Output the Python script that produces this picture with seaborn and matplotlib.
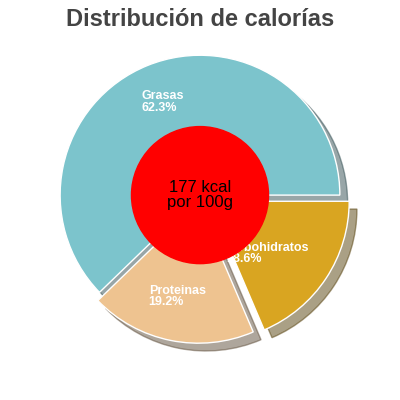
import matplotlib
matplotlib.use('Agg')
import matplotlib.pyplot as plt
import seaborn as sns
import numpy as np

sns.set_theme(style='white')
plt.rcParams['font.family'] = ['Liberation Sans', 'DejaVu Sans']

nutrientes = ['Grasas', 'Proteinas', 'carbohidratos']
porcentajes = [62.3, 19.2, 18.6]
colores = ['#7cc4cc', '#eec390', '#d9a521']
separacion = [0.0, 0.06, 0.08]

fig = plt.figure(figsize=(4, 4), dpi=100)
ax = fig.add_axes([0, 0, 1, 1])

wedges, texts = ax.pie(porcentajes, colors=colores, explode=separacion,
                       startangle=0, counterclock=True,
                       shadow={'ox': 0.04, 'oy': -0.04, 'shade': 0.6},
                       labels=None, radius=1.0)
# etiquetas alineadas a la izquierda, como en el original
desplaz = {'Grasas': -0.15, 'Proteinas': -0.22, 'carbohidratos': -0.45}
for w, n, p in zip(wedges, nutrientes, porcentajes):
    ang = np.deg2rad((w.theta1 + w.theta2) / 2)
    r = 0.72 if n == 'Grasas' else 0.68
    cx, cy = w.center
    ax.text(cx + r * np.cos(ang) + desplaz[n], cy + r * np.sin(ang), f'{n}\n{p}%',
            color='white', fontsize=9, fontweight='bold', ha='left', va='center',
            linespacing=0.95)

ax.add_patch(plt.Circle((0, 0), 0.49, color='red', zorder=5))
ax.text(0, 0, '177 kcal\npor 100g', fontsize=12, color='black',
        ha='center', va='center', zorder=6, linespacing=1.0)

ax.set_xlim(-1.43, 1.43)
ax.set_ylim(-1.46, 1.39)
ax.set_aspect('equal')
ax.axis('off')
fig.text(0.5, 0.95, 'Distribución de calorías', ha='center', va='center',
         fontsize=17, fontweight='bold', color='#444444')

plt.savefig('out.png', dpi=100)
